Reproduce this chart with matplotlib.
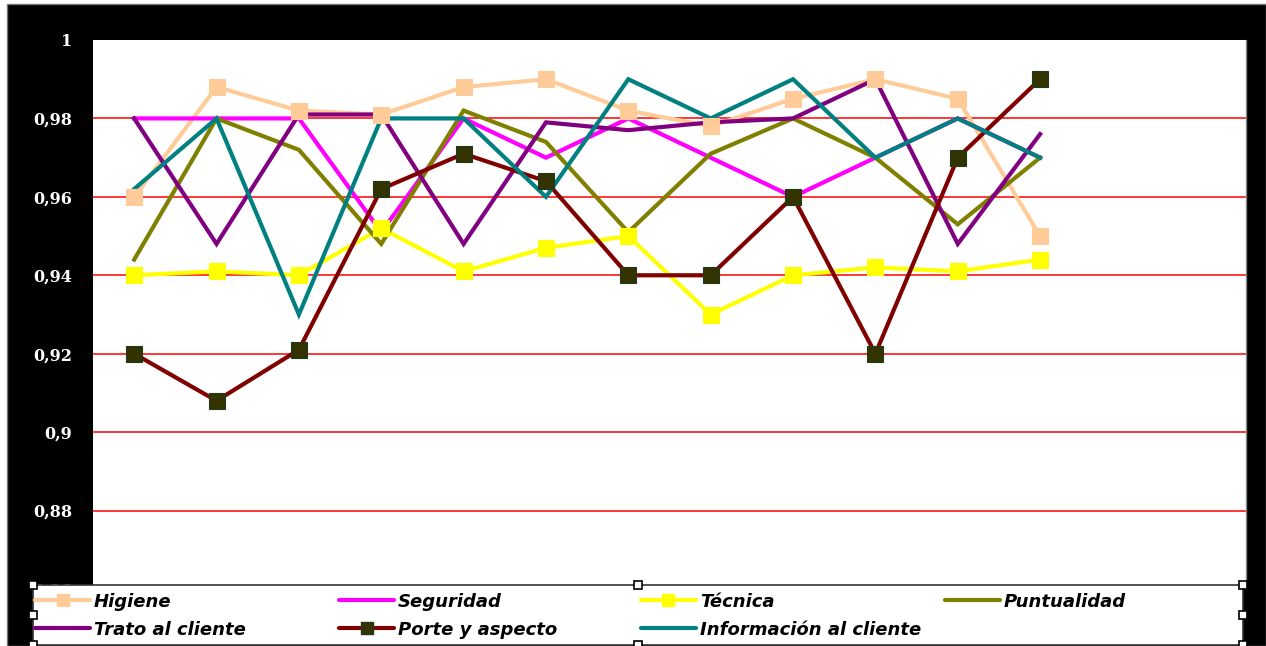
import matplotlib
matplotlib.use("Agg")
import matplotlib.pyplot as plt
from matplotlib.lines import Line2D
from matplotlib.patches import Rectangle

# Indicator scores per survey period (12 periods)
periods = list(range(12))

higiene = [0.960, 0.988, 0.982, 0.981, 0.988, 0.990, 0.982, 0.978, 0.985, 0.990, 0.985, 0.950]
seguridad = [0.980, 0.980, 0.980, 0.951, 0.980, 0.970, 0.980, 0.970, 0.960, 0.970, 0.980, 0.970]
tecnica = [0.940, 0.941, 0.940, 0.952, 0.941, 0.947, 0.950, 0.930, 0.940, 0.942, 0.941, 0.944]
puntualidad = [0.944, 0.980, 0.972, 0.948, 0.982, 0.974, 0.951, 0.971, 0.980, 0.970, 0.953, 0.970]
trato = [0.980, 0.948, 0.981, 0.981, 0.948, 0.979, 0.977, 0.979, 0.980, 0.990, 0.948, 0.976]
porte = [0.920, 0.908, 0.921, 0.962, 0.971, 0.964, 0.940, 0.940, 0.960, 0.920, 0.970, 0.990]
informacion = [0.962, 0.980, 0.930, 0.980, 0.980, 0.960, 0.990, 0.980, 0.990, 0.970, 0.980, 0.970]

series_names = ["Higiene", "Seguridad", "Técnica", "Puntualidad",
                "Trato al cliente", "Porte y aspecto", "Información al cliente"]

y_ticks = [0.86, 0.88, 0.90, 0.92, 0.94, 0.96, 0.98, 1.0]
y_tick_labels = ["0,86", "0,88", "0,9", "0,92", "0,94", "0,96", "0,98", "1"]

styles = [
    dict(color="#FFCC99", marker="s", mfc="#FFCC99", mec="#FFCC99"),
    dict(color="#FF00FF", marker=None),
    dict(color="#FFFF00", marker="s", mfc="#FFFF00", mec="#FFFF00"),
    dict(color="#808000", marker=None),
    dict(color="#800080", marker=None),
    dict(color="#800000", marker="s", mfc="#333300", mec="#1f3a1f"),
    dict(color="#008080", marker=None),
]
data = [higiene, seguridad, tecnica, puntualidad, trato, porte, informacion]

W, H = 1266, 646
fig = plt.figure(figsize=(W / 100, H / 100), dpi=100, facecolor="white")


def fx(px):
    return px / W


def fy(py):
    return 1 - py / H


# black chart frame
fig.add_artist(Rectangle((fx(7), 0), 1 - fx(7), fy(4), transform=fig.transFigure,
                         facecolor="black", edgecolor="#777777", lw=1, zorder=-10))

left, right, top, bottom = 93, 1246, 40, 589
ax = fig.add_axes([fx(left), fy(bottom), (right - left) / W, (bottom - top) / H])
ax.set_zorder(1)
ax.set_facecolor("white")
ax.set_xlim(-0.5, 13.5)
ax.set_ylim(0.86, 1.0)

for v in y_ticks:
    if 0.86 < v < 1.0:
        ax.axhline(v, color="#FF0000", lw=1.1, zorder=1)

lw = 3.0
ms = 12
for i, (vals, st) in enumerate(zip(data, styles)):
    ax.plot(periods, vals, color=st["color"], lw=lw, zorder=2 + i * 0.01,
            solid_joinstyle="miter")
    if st["marker"]:
        ax.plot(periods, vals, ls="none", marker="s", ms=ms, mfc=st["mfc"],
                mec=st["mec"], mew=0.8, zorder=4)

ax.set_xticks([])
ax.set_yticks(y_ticks)
ax.set_yticklabels(y_tick_labels)
ax.tick_params(axis="y", length=0, pad=15, labelcolor="white")
for lab in ax.get_yticklabels():
    lab.set_fontfamily("DejaVu Serif")
    lab.set_fontweight("bold")
    lab.set_fontsize(11.5)
for side in ["top", "left", "bottom"]:
    ax.spines[side].set_visible(False)
ax.spines["right"].set_color("#888888")
ax.spines["right"].set_linewidth(1)

# legend box across the bottom: 4 evenly spaced columns, filled row by row
lx0, lx1, ly0, ly1 = 33, 1243, 585, 645
fig.add_artist(Rectangle((fx(lx0), fy(ly1)), (lx1 - lx0) / W, (ly1 - ly0) / H,
                         transform=fig.transFigure, facecolor="white",
                         edgecolor="#333333", lw=1.2, zorder=10))
col_x = [35, 339, 641, 945]
row_y = [600, 628]
handle_len = 55
for k, (name, st) in enumerate(zip(series_names, styles)):
    r, c = divmod(k, 4)
    x0, y0 = col_x[c], row_y[r]
    fig.add_artist(Line2D([fx(x0), fx(x0 + handle_len)], [fy(y0), fy(y0)],
                          transform=fig.transFigure, color=st["color"], lw=lw,
                          solid_capstyle="round", zorder=11))
    if st["marker"]:
        fig.add_artist(Line2D([fx(x0 + handle_len / 2)], [fy(y0)], transform=fig.transFigure,
                              ls="none", marker="s", ms=8, mfc=st["mfc"], mec=st["mec"],
                              zorder=12))
    fig.text(fx(x0 + handle_len + 4), fy(y0), name, transform=fig.transFigure,
             ha="left", va="center_baseline", family="DejaVu Sans", weight="bold",
             style="italic", fontsize=13, color="black", zorder=12)

# selection handles on the legend box
hs = 8
for hx in (lx0, (lx0 + lx1) / 2, lx1):
    for hy in (ly0, (ly0 + ly1) / 2, ly1):
        if hx == (lx0 + lx1) / 2 and hy == (ly0 + ly1) / 2:
            continue
        fig.add_artist(Rectangle((fx(hx - hs / 2), fy(hy + hs / 2)), hs / W, hs / H,
                                 transform=fig.transFigure, facecolor="white",
                                 edgecolor="black", lw=1.2, zorder=20))

fig.savefig("out.png", dpi=100, facecolor="white")
